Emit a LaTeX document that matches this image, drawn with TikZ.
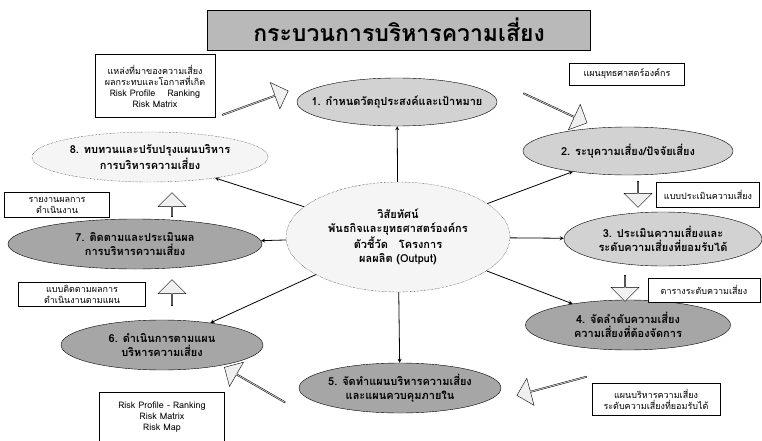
\documentclass[tikz,border=0pt]{standalone}
\usepackage{fontspec}
\setmainfont[Script=Thai]{Loma}
\usepackage{tikz}
\usetikzlibrary{shapes.geometric, shapes.arrows, arrows, positioning}
\tikzstyle{lightstep} = [ellipse, draw=black, fill=gray!35, minimum width=200pt, minimum height=48pt, align=center, inner xsep=-30pt, inner ysep=-6pt, font=\fontsize{11}{14}\selectfont\bfseries]
\tikzstyle{darkstep} = [ellipse, draw=black, fill=gray!70, minimum width=205pt, minimum height=50pt, align=center, inner xsep=-30pt, inner ysep=-6pt, font=\fontsize{11}{14}\selectfont\bfseries]
\tikzstyle{plainstep} = [ellipse, draw=black, densely dotted, fill=gray!8, align=center, inner xsep=-30pt, inner ysep=-6pt, font=\fontsize{11}{14}\selectfont\bfseries]
\tikzstyle{note} = [rectangle, draw=black, fill=white, align=center, font=\fontsize{9}{11}\selectfont, inner sep=2pt]
\tikzstyle{turn} = [single arrow, draw=black, fill=gray!12, minimum width=28pt, single arrow head extend=4pt, inner sep=0pt]
\tikzstyle{arrow} = [thick,->,>=stealth]

\begin{document}
\begin{tikzpicture}[x=1pt, y=-1pt]
    \useasboundingbox (0,0) rectangle (762,441);

    % Title
    \node (title) [draw=black, fill=gray!55, minimum width=383pt, minimum height=40pt, font=\fontsize{23}{25}\selectfont\bfseries] at (399,30) {กระบวนการบริหารความเสี่ยง};

    % Centre
    \node (obj) [plainstep, minimum width=224pt, minimum height=110pt] at (398,237) {วิสัยทัศน์\\พันธกิจและยุทธศาสตร์องค์กร\\ตัวชี้วัด\quad โครงการ\\ผลผลิต (Output)};

    % Steps of the cycle
    \node (s1) [lightstep] at (397,102) {1. กำหนดวัตถุประสงค์และเป้าหมาย};
    \node (s2) [lightstep, minimum width=210pt] at (628,151) {2. ระบุความเสี่ยง/ปัจจัยเสี่ยง};
    \node (s3) [lightstep, minimum width=198pt, minimum height=54pt] at (663,239) {3. ประเมินความเสี่ยงและ\\ระดับความเสี่ยงที่ยอมรับได้};
    \node (s4) [darkstep] at (628,325) {4. จัดลำดับความเสี่ยง\\ความเสี่ยงที่ต้องจัดการ};
    \node (s5) [darkstep, minimum width=202pt] at (400,388) {5. จัดทำแผนบริหารความเสี่ยง\\และแผนควบคุมภายใน};
    \node (s6) [darkstep, minimum width=202pt] at (162,345) {6. ดำเนินการตามแผน\\บริหารความเสี่ยง};
    \node (s7) [darkstep, minimum width=254pt] at (135,244) {7. ติดตามและประเมินผล\\การบริหารความเสี่ยง};
    \node (s8) [plainstep, minimum width=236pt, minimum height=50pt] at (150,157) {8. ทบทวนและปรับปรุงแผนบริหาร\\การบริหารความเสี่ยง};

    \draw [arrow] (obj) -- (s1);
    \draw [arrow] (obj) -- (s2);
    \draw [arrow] (obj) -- (s3);
    \draw [arrow] (obj) -- (s4);
    \draw [arrow] (obj) -- (s5);
    \draw [arrow] (obj) -- (s6);
    \draw [arrow] (obj) -- (s7);
    \draw [arrow] (obj) -- (s8);

    % Turning arrows between steps
    \node (a1) [turn, minimum height=70pt, rotate=20] at (255,103) {};
    \node (a2) [turn, minimum height=70pt, rotate=-25] at (555,108) {};
    \node (a3) [turn, minimum height=26pt, rotate=-90] at (638,194) {};
    \node (a4) [turn, minimum height=26pt, rotate=-90] at (625,288) {};
    \node (a5) [turn, minimum height=72pt, rotate=195] at (552,386) {};
    \node (a6) [turn, minimum height=70pt, rotate=150] at (255,385) {};
    \node (a7) [turn, minimum height=26pt, rotate=90] at (172,293) {};
    \node (a8) [turn, minimum height=24pt, rotate=90] at (172,205) {};

    % Notes beside the steps
    \node (n1) [note, minimum width=120pt, minimum height=63pt] at (155,86) {แหล่งที่มาของความเสี่ยง\\ผลกระทบและโอกาสที่เกิด\\Risk Profile \quad Ranking\\Risk Matrix};
    \node (n2) [note, minimum width=115pt, minimum height=22pt] at (627,74) {แผนยุทธศาสตร์องค์กร};
    \node (n3) [note, minimum width=103pt, minimum height=25pt] at (708,195) {แบบประเมินความเสี่ยง};
    \node (n4) [note, minimum width=112pt, minimum height=24pt] at (704,290) {ตารางระดับความเสี่ยง};
    \node (n5) [note, minimum width=128pt, minimum height=32pt] at (656,399) {แผนบริหารความเสี่ยง\\ระดับความเสี่ยงที่ยอมรับได้};
    \node (n6) [note, minimum width=125pt, minimum height=50pt] at (162,417) {Risk Profile - Ranking\\Risk Matrix\\Risk Map};
    \node (n7) [note, minimum width=127pt, minimum height=24pt] at (82,294) {แบบติดตามผลการ\\ดำเนินงานตามแผน};
    \node (n8) [note, minimum width=105pt, minimum height=25pt] at (57,205) {รายงานผลการ\\ดำเนินงาน};
\end{tikzpicture}
\end{document}
